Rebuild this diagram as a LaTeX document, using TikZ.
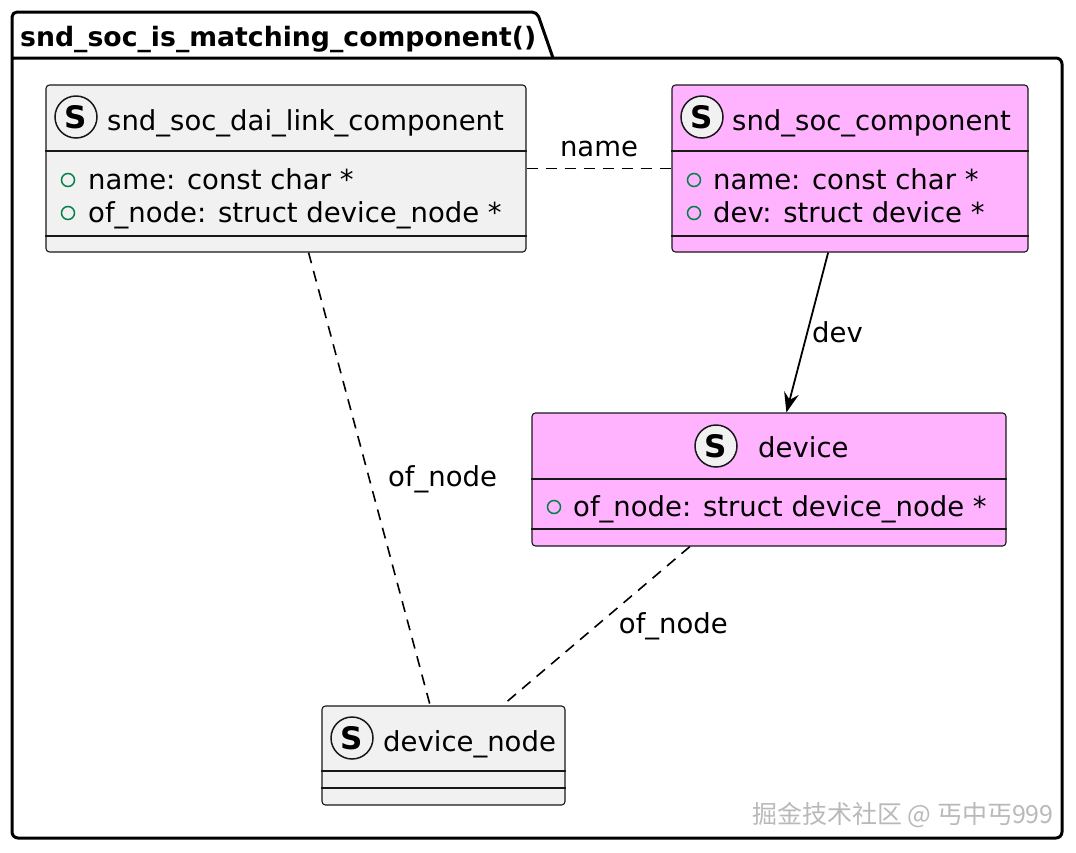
\documentclass[tikz,border=0pt]{standalone}
\usepackage{fontspec}
\setmainfont{DejaVu Sans}
\newfontfamily\cjk{Noto Sans CJK SC}
\usetikzlibrary{arrows.meta}
\definecolor{clsgray}{HTML}{F1F1F1}
\definecolor{clspink}{HTML}{FFB3FF}
\definecolor{clsline}{HTML}{181818}
\definecolor{visgreen}{HTML}{038048}
\newcommand{\umlfont}{\fontsize{27.5}{32}\selectfont}
\begin{document}
\begin{tikzpicture}[x=1pt, y=-1pt, font=\umlfont,
    frame/.style={line width=3pt, line join=round},
    cls/.style={rectangle, draw=clsline, fill=clsgray, line width=1.1pt, rounded corners=3.5pt, inner sep=0pt},
    pinkcls/.style={cls, fill=clspink},
    sep/.style={draw=clsline, line width=1.1pt},
    spot/.style={circle, draw=clsline, fill=clsgray, line width=1.5pt, minimum size=42pt, inner sep=0pt, font=\fontsize{31}{31}\selectfont\bfseries},
    vis/.style={circle, draw=visgreen, line width=1.5pt, minimum size=13pt, inner sep=0pt},
    txt/.style={anchor=base west, inner sep=0pt},
    link/.style={line width=1.6pt, dash pattern=on 11pt off 8pt},
    assoc/.style={line width=1.8pt, -{Stealth[length=20pt, width=15pt, inset=7pt]}},
    lbl/.style={inner sep=2pt}]
  \useasboundingbox (0,0) rectangle (1076,852);

  % package frame
  \draw[frame] (12,58) [rounded corners=5pt] -- (12,12) -- (537,12) [sharp corners] -- (553,58);
  \draw[frame, rounded corners=6pt] (12,58) -- (12,838) -- (1062,838) -- (1062,58) -- (12,58);
  \node[txt, font=\fontsize{26.7}{32}\selectfont\bfseries] (title) at (20,46) {snd\_soc\_is\_matching\_component()};

  % classes
  \node[cls, minimum width=480pt, minimum height=167pt] (dlc) at (286,168.5) {};
  \node[pinkcls, minimum width=356pt, minimum height=167pt] (comp) at (850,168.5) {};
  \node[pinkcls, minimum width=474pt, minimum height=133pt] (dev) at (769,479.5) {};
  \node[cls, minimum width=243pt, minimum height=99pt] (dnode) at (443.5,755.5) {};

  % snd_soc_dai_link_component
  \node[spot] (dlcspot) at (76,117) {S};
  \node[txt] (dlcname) at (107,130) {snd\_soc\_dai\_link\_component};
  \draw[sep] (dlc.west |- 0,151) -- (dlc.east |- 0,151);
  \node[vis] (dlcvisa) at (68,180) {};
  \node[txt] (dlcname1) at (88,189) {name: const char *};
  \node[vis] (dlcvisb) at (68,213) {};
  \node[txt] (dlcofnode) at (88,222) {of\_node: struct device\_node *};
  \draw[sep] (dlc.west |- 0,236) -- (dlc.east |- 0,236);

  % snd_soc_component
  \node[spot] (compspot) at (702,117) {S};
  \node[txt] (compname) at (732,130) {snd\_soc\_component};
  \draw[sep] (comp.west |- 0,151) -- (comp.east |- 0,151);
  \node[vis] (compvisa) at (694,180) {};
  \node[txt] (compname1) at (713,189) {name: const char *};
  \node[vis] (compvisb) at (694,213) {};
  \node[txt] (compdev) at (713,222) {dev: struct device *};
  \draw[sep] (comp.west |- 0,236) -- (comp.east |- 0,236);

  % device
  \node[spot] (devspot) at (716,446) {S};
  \node[txt] (devname) at (758,457) {device};
  \draw[sep] (dev.west |- 0,479) -- (dev.east |- 0,479);
  \node[vis] (devvis) at (554,507) {};
  \node[txt] (devofnode) at (573,516) {of\_node: struct device\_node *};
  \draw[sep] (dev.west |- 0,529) -- (dev.east |- 0,529);

  % device_node
  \node[spot] (dnodespot) at (352,738) {S};
  \node[txt] (dnodename) at (383,751) {device\_node};
  \draw[sep] (dnode.west |- 0,771) -- (dnode.east |- 0,771);
  \draw[sep] (dnode.west |- 0,788) -- (dnode.east |- 0,788);

  % connectors
  \draw[link] (dlc) -- node[lbl, above, yshift=9pt] {name} (comp);
  \draw[link] (dlc) -- node[lbl, right, xshift=16pt] {of\_node} (dnode);
  \draw[assoc] (comp) -- node[lbl, right, xshift=2pt] {dev} (dev);
  \draw[link] (dev) -- node[lbl, right, xshift=20pt] {of\_node} (dnode);

  % watermark
  \node[txt, text=gray!55, font=\cjk\fontsize{25}{25}\selectfont] (mark) at (752,823) {掘金技术社区 @ 丐中丐999};
\end{tikzpicture}
\end{document}
